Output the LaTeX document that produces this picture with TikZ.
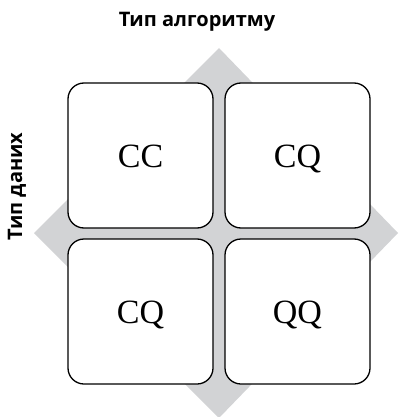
\documentclass[tikz,border=0pt]{standalone}
\usepackage{fontspec}
\setmainfont{Liberation Serif}
\newfontfamily\labelfont{Open Sans}
\definecolor{diamondgray}{RGB}{210,211,213}
\begin{document}
\begin{tikzpicture}[x=1pt,y=-1pt,
  cell/.style={draw=black,line width=1.3pt,fill=white,rounded corners=16pt,
    minimum width=145pt,minimum height=145pt,inner sep=0pt,
    text height=23pt,text depth=0pt,
    font=\fontsize{34}{36}\selectfont},
  axislabel/.style={font=\labelfont\bfseries\fontsize{20}{22}\selectfont,inner sep=0pt}]
  \useasboundingbox (0,0) rectangle (399,417);
  % gray diamond behind the four cells
  \fill[diamondgray] (219,48) -- (398,233) -- (219,418) -- (34,233) -- cycle;
  % quadrant cells
  \node[cell] (cc)  at (140.5,155.5) {CC};
  \node[cell] (cq1) at (297.5,155.5) {CQ};
  \node[cell] (cq2) at (140.5,311.5) {CQ};
  \node[cell] (qq)  at (297.5,311.5) {QQ};
  % axis captions
  \node[axislabel] (alg) at (197,22) {Тип алгоритму};
  \node[axislabel,rotate=90] (data) at (17,186.5) {Тип даних};
\end{tikzpicture}
\end{document}
